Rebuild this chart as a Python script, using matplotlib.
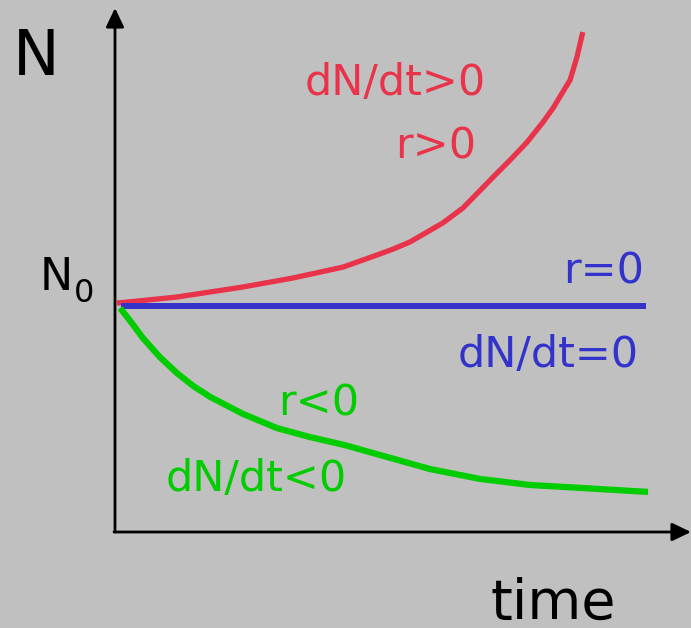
import matplotlib
matplotlib.use("Agg")
import matplotlib.pyplot as plt

# Population size N over time for three growth regimes (N0 = 1)
time_growth = [-0.02, 1.11, 2.36, 3.30, 4.25, 4.89, 5.19, 5.51, 6.13, 6.51,
               7.08, 7.40, 7.72, 8.02, 8.21, 8.53, 8.66, 8.77]
N_growth = [1.013, 1.040, 1.085, 1.125, 1.174, 1.228, 1.254, 1.286, 1.371,
            1.438, 1.576, 1.652, 1.732, 1.821, 1.884, 2.009, 2.112, 2.223]

time_stable = [0.06, 9.96]
N_stable = [1.0, 1.0]

time_decline = [0.04, 0.26, 0.47, 0.79, 1.11, 1.42, 1.74, 2.36, 3.00, 3.62,
                4.28, 4.94, 5.89, 6.83, 7.77, 8.72, 10.0]
N_decline = [0.991, 0.924, 0.857, 0.772, 0.701, 0.643, 0.594, 0.518, 0.455,
             0.415, 0.379, 0.335, 0.272, 0.228, 0.201, 0.188, 0.170]

RED = "#e8334a"
BLUE = "#3333cc"
GREEN = "#00cc00"
BG = "#c0c0c0"

W, H = 691, 628
fig = plt.figure(figsize=(W / 100, H / 100), dpi=100, facecolor=BG)
ax = fig.add_axes([0, 0, 1, 1])
ax.set_facecolor(BG)
ax.set_xlim(-2.2264, 10.8113)
ax.set_ylim(-0.4375, 2.3661)
ax.axis("off")

style = dict(solid_capstyle="butt", solid_joinstyle="round")
ax.plot(time_growth, N_growth, color=RED, lw=3.8, **style)
ax.plot(time_stable, N_stable, color=BLUE, lw=4.3, **style)
ax.plot(time_decline, N_decline, color=GREEN, lw=4.5, **style)


def px(x, y):
    """Pixel position (origin top-left) to figure fraction."""
    return x / W, 1 - y / H


# Axes with arrow heads
arrow = dict(arrowstyle="-|>,head_length=1.15,head_width=0.55",
             mutation_scale=10, lw=2, color="black",
             shrinkA=0, shrinkB=0)
ax.annotate("", xy=px(115, 8), xytext=px(115, 532),
            xycoords="figure fraction", textcoords="figure fraction",
            arrowprops=arrow)
ax.annotate("", xy=px(691, 532), xytext=px(114, 532),
            xycoords="figure fraction", textcoords="figure fraction",
            arrowprops=arrow)

font = "DejaVu Sans"


def label(x, y, s, size, color="black"):
    fig.text(*px(x, y), s, fontsize=size, color=color, family=font,
             ha="left", va="baseline")


label(13, 75, "N", 45)
label(40, 290, "N", 32)
label(74, 302, "0", 23)
label(490, 619, "time", 40)

label(305, 95, "dN/dt>0", 31, RED)
label(395, 158, "r>0", 31, RED)
label(563, 283, "r=0", 31, BLUE)
label(458, 367, "dN/dt=0", 31, BLUE)
label(278, 416, "r<0", 31, GREEN)
label(166, 491, "dN/dt<0", 31, GREEN)

fig.savefig("out.png", dpi=100, facecolor=BG)
